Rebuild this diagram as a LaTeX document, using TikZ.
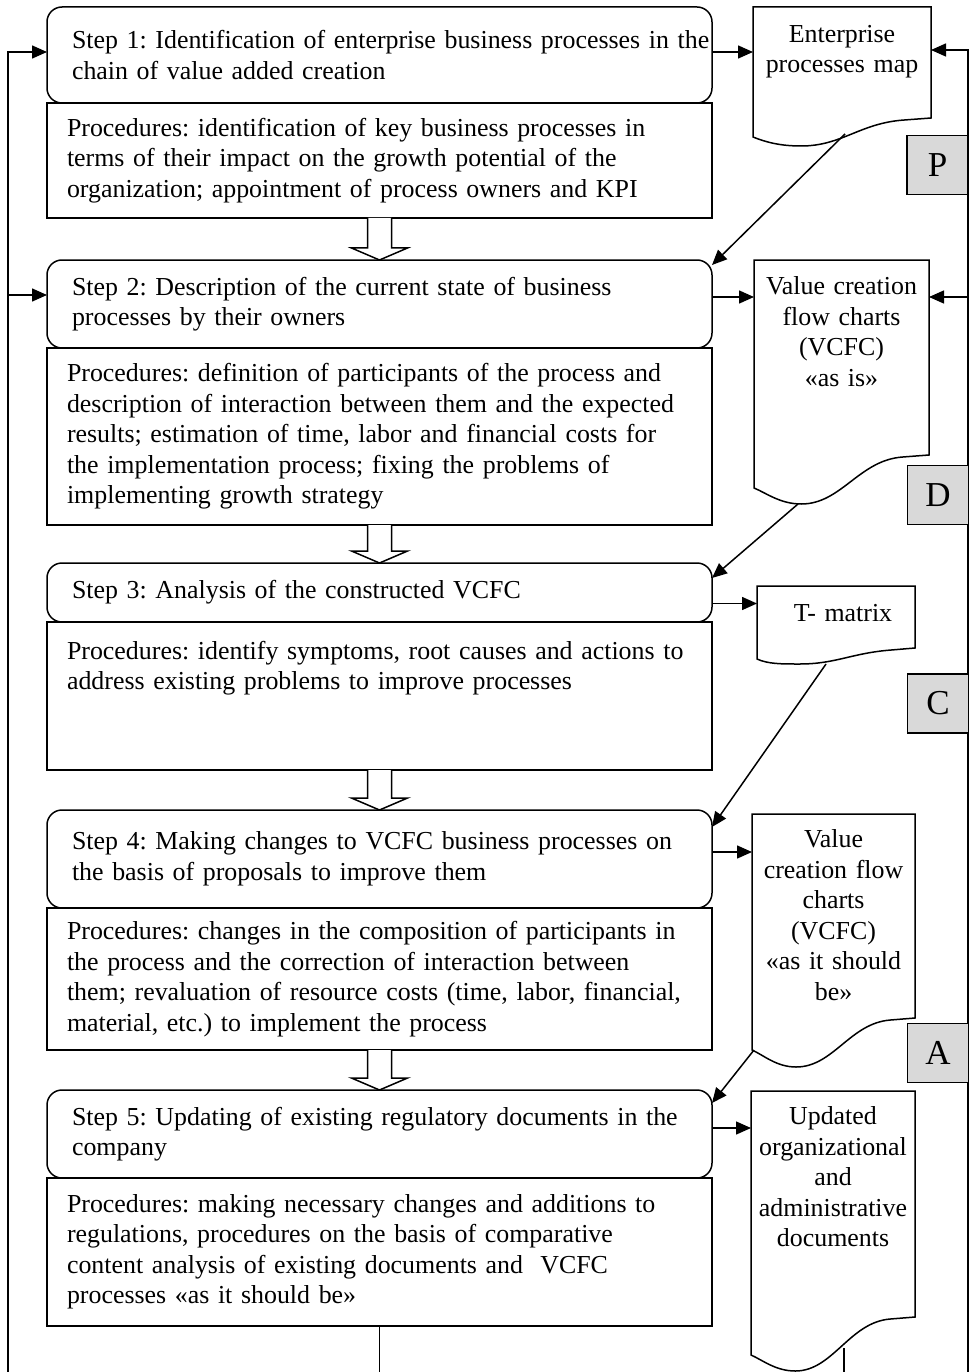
\documentclass[tikz,border=0pt]{standalone}
\usepackage{fontspec}
\setmainfont{Liberation Serif}
\usetikzlibrary{arrows.meta}
\usetikzlibrary{positioning}
\usetikzlibrary{calc}
\frenchspacing

\tikzset{
  stepbox/.style={draw, rounded corners=15pt, outer sep=0pt, minimum width=665pt,
    text width=615pt, inner xsep=25pt, inner ysep=0pt, align=left,
    execute at begin node={\rightskip=-60pt plus 1fil}},
  procbox/.style={draw, outer sep=0pt, minimum width=665pt,
    text width=625pt, inner xsep=20pt, inner ysep=0pt, align=left,
    execute at begin node={\rightskip=-50pt plus 1fil}},
  docbox/.style={anchor=north, align=center, inner sep=0pt, outer sep=0pt},
  letterbox/.style={draw, fill=gray!30, minimum width=61pt, minimum height=59pt,
    inner sep=0pt, font=\fontsize{35}{35}\selectfont}
}

% document symbol: x1, x2, top, right bottom, left bottom, lowest point
\newcommand{\docshape}[6]{%
  \pgfmathsetmacro{\dw}{#2-#1}
  \draw (#1,#5) -- (#1,#3) -- (#2,#3) -- (#2,#4)
    -- ({#2-0.15*\dw},{#4+2})
    .. controls ({#2-0.4*\dw},{#4+5}) and ({#1+0.5*\dw},{#6}) .. ({#1+0.27*\dw},{#6})
    .. controls ({#1+0.15*\dw},{#6}) and ({#1+0.07*\dw},{#5+5}) .. (#1,#5) -- cycle;}

% wide hollow arrow between two boxes
\newcommand{\hollowarrow}[2]{%
  \draw[fill=white] ($(#1)+(-12,0)$) -- ($(#2)+(-12,-12)$) -- ($(#2)+(-28,-12)$)
    -- (#2) -- ($(#2)+(28,-12)$) -- ($(#2)+(12,-12)$) -- ($(#1)+(12,0)$);}

\begin{document}
\begin{tikzpicture}[x=1pt, y=-1pt, line width=1.5pt,
    font=\fontsize{25.9}{30.5}\selectfont]
  \useasboundingbox (0,0) rectangle (970,1372);

  % steps and their procedures
  \node[stepbox, minimum height=96pt] (step1) at (379.5,55)
    {Step 1: Identification of enterprise business processes in the\\chain of value added creation};
  \node[procbox, minimum height=115pt, below=0pt of step1] (proc1)
    {Procedures: identification of key business processes in\\terms of their impact on the growth potential of the\\organization; appointment of process owners and KPI};

  \node[stepbox, minimum height=88pt] (step2) at (379.5,304)
    {Step 2: Description of the current state of business\\processes by their owners};
  \node[procbox, minimum height=177pt, below=0pt of step2] (proc2)
    {Procedures: definition of participants of the process and\\description of interaction between them and the expected\\results; estimation of time, labor and financial costs for\\the implementation process; fixing the problems of\\implementing growth strategy};

  \node[stepbox, minimum height=59pt] (step3) at (379.5,592.5)
    {Step 3: Analysis of the constructed VCFC};
  \node[procbox, minimum height=148pt, below=0pt of step3] (proc3)
    {Procedures: identify symptoms, root causes and actions to\\address existing problems to improve processes\\\mbox{}\\\mbox{}};

  \node[stepbox, minimum height=98pt] (step4) at (379.5,859)
    {Step 4: Making changes to VCFC business processes on\\the basis of proposals to improve them};
  \node[procbox, minimum height=142pt, below=0pt of step4] (proc4)
    {Procedures: changes in the composition of participants in\\the process and the correction of interaction between\\them; revaluation of resource costs (time, labor, financial,\\material, etc.) to implement the process};

  \node[stepbox, minimum height=88pt] (step5) at (379.5,1134)
    {Step 5: Updating of existing regulatory documents in the\\company};
  \node[procbox, minimum height=148pt, below=0pt of step5] (proc5)
    {Procedures: making necessary changes and additions to\\regulations, procedures on the basis of comparative\\content analysis of existing documents and~ VCFC\\processes «as it should be»};

  \hollowarrow{proc1.south}{step2.north}
  \hollowarrow{proc2.south}{step3.north}
  \hollowarrow{proc3.south}{step4.north}
  \hollowarrow{proc4.south}{step5.north}

  % documents
  \docshape{753}{931}{7}{118}{137}{146}
  \node[docbox, text width=178pt] (d1) at (842,25) {Enterprise\\processes map};
  \docshape{754}{929}{260}{455}{488}{504}
  \node[docbox, text width=175pt] (d2) at (841.5,277) {Value creation\\flow charts\\(VCFC)\\«as is»};
  \docshape{757}{915}{586}{648}{659}{664}
  \node[docbox, text width=158pt] (d3) at (836,604) {\hspace*{14pt}T- matrix};
  \docshape{752}{915}{814}{1018}{1050}{1067}
  \node[docbox, text width=163pt] (d4) at (833.5,830) {Value\\creation flow\\charts\\(VCFC)\\«as it should\\be»};
  \docshape{751}{915}{1091}{1317}{1355}{1371}
  \node[docbox, text width=164pt] (d5) at (833,1107) {Updated\\organizational\\and\\administrative\\documents};

  \coordinate (d1-out) at (845,134);
  \coordinate (d2-out) at (798,504);
  \coordinate (d3-out) at (826,664);
  \coordinate (d4-out) at (754,1050);
  \coordinate (d5-out) at (844,1348);
  \coordinate (Lbot) at (8,1372);
  \coordinate (Rbot) at (968,1372);

  % feedback lines
  \begin{scope}[>={Triangle[length=15pt,width=13pt]}]
    \draw[->] (Lbot) |- ([yshift=3pt]step1.west);
    \draw[->] (Lbot) |- ([yshift=9pt]step2.west);
    \draw[->] (Rbot) |- ([yshift=5pt]step1.east -| d1.east);
    \draw[->] (Rbot) |- ([yshift=7pt]step2.east -| d2.east);
    \draw (proc5.south) -- (proc5.south |- Lbot);
    \draw (d5-out) -- (d5-out |- Lbot);

    % step -> document
    \draw[->] ([yshift=3pt]step1.east) -- ([yshift=3pt]step1.east -| d1.west);
    \draw[->] ([yshift=7pt]step2.east) -- ([yshift=7pt]step2.east -| d2.west);
    \draw[->] ([yshift=-11pt]step3.east) -- ([yshift=-11pt]step3.east -| d3.west);
    \draw[->] ([yshift=7pt]step4.east) -- ([yshift=7pt]step4.east -| d4.west);
    \draw[->] ([yshift=6pt]step5.east) -- ([yshift=6pt]step5.east -| d5.west);

    % document -> next step
    \draw[->] (d1-out) -- ([yshift=-5pt]step2.north east);
    \draw[->] (d2-out) -- ([yshift=-15pt]step3.north east);
    \draw[->] (d3-out) -- ([yshift=-17pt]step4.north east);
    \draw[->] (d4-out) -- ([yshift=-13pt]step5.north east);
  \end{scope}

  % PDCA letters
  \node[letterbox] (P) at (937.5,165) {P};
  \node[letterbox] (D) at (938,495) {D};
  \node[letterbox] (C) at (938,703.5) {C};
  \node[letterbox] (A) at (938,1053) {A};
\end{tikzpicture}
\end{document}
